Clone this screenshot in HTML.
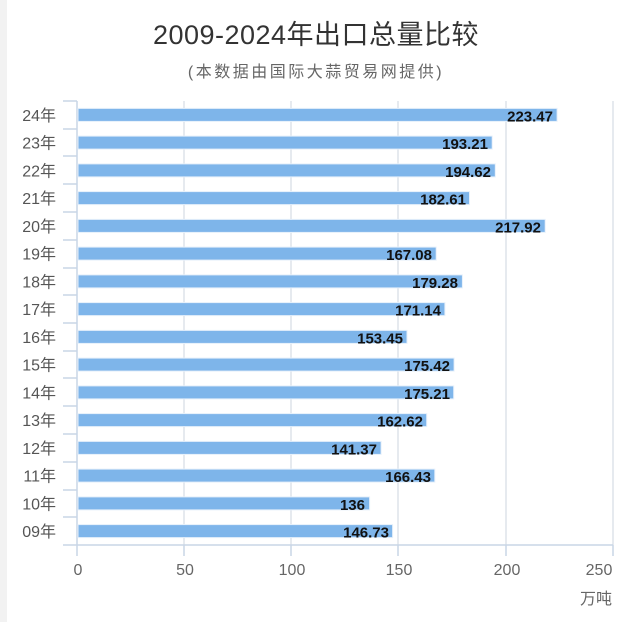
<!DOCTYPE html><html><head><meta charset="utf-8"><style>
body{margin:0;background:#fff;}
svg{display:block;font-family:"Liberation Sans","Noto Sans CJK SC",sans-serif;}
</style></head><body>
<svg width="626" height="622" viewBox="0 0 626 622">
<rect x="0" y="0" width="7" height="622" fill="#f2f2f2"/>
<text x="316" y="44" font-size="27" fill="#333" text-anchor="middle" letter-spacing="0.5">2009-2024年出口总量比较</text>
<text x="316" y="77" font-size="16" fill="#666" text-anchor="middle" letter-spacing="2.5">(本数据由国际大蒜贸易网提供)</text>
<g stroke="#dde3ea" stroke-width="1.5">
<line x1="184" y1="101" x2="184" y2="545"/><line x1="291" y1="101" x2="291" y2="545"/>
<line x1="398" y1="101" x2="398" y2="545"/><line x1="506" y1="101" x2="506" y2="545"/>
<line x1="613" y1="101" x2="613" y2="545"/>
</g>
<g stroke="#c9d6e6" stroke-width="1.5">
<line x1="77" y1="101" x2="77" y2="545"/><line x1="63" y1="545" x2="613" y2="545"/>
<line x1="77" y1="545" x2="77" y2="556"/><line x1="184" y1="545" x2="184" y2="556"/><line x1="291" y1="545" x2="291" y2="556"/><line x1="398" y1="545" x2="398" y2="556"/><line x1="506" y1="545" x2="506" y2="556"/><line x1="613" y1="545" x2="613" y2="556"/>
<line x1="63" y1="101" x2="77" y2="101"/><line x1="63" y1="129" x2="77" y2="129"/><line x1="63" y1="156" x2="77" y2="156"/><line x1="63" y1="184" x2="77" y2="184"/><line x1="63" y1="212" x2="77" y2="212"/><line x1="63" y1="240" x2="77" y2="240"/><line x1="63" y1="268" x2="77" y2="268"/><line x1="63" y1="295" x2="77" y2="295"/><line x1="63" y1="323" x2="77" y2="323"/><line x1="63" y1="351" x2="77" y2="351"/><line x1="63" y1="378" x2="77" y2="378"/><line x1="63" y1="406" x2="77" y2="406"/><line x1="63" y1="434" x2="77" y2="434"/><line x1="63" y1="462" x2="77" y2="462"/><line x1="63" y1="490" x2="77" y2="490"/><line x1="63" y1="517" x2="77" y2="517"/>
</g>
<g font-size="16" fill="#666" text-anchor="middle">
<text x="78" y="575">0</text><text x="185" y="575">50</text><text x="292" y="575">100</text><text x="399" y="575">150</text><text x="507" y="575">200</text><text x="599" y="575">250</text>
<text x="596" y="604">万吨</text>
</g>
<g fill="#7eb5ea" stroke="#e6f0fb" stroke-width="1">
<rect x="78" y="108.4" width="479.1" height="13"/>
<rect x="78" y="136.1" width="414.2" height="13"/>
<rect x="78" y="163.9" width="417.3" height="13"/>
<rect x="78" y="191.6" width="391.5" height="13"/>
<rect x="78" y="219.4" width="467.2" height="13"/>
<rect x="78" y="247.1" width="358.2" height="13"/>
<rect x="78" y="274.9" width="384.4" height="13"/>
<rect x="78" y="302.6" width="366.9" height="13"/>
<rect x="78" y="330.4" width="329.0" height="13"/>
<rect x="78" y="358.1" width="376.1" height="13"/>
<rect x="78" y="385.9" width="375.7" height="13"/>
<rect x="78" y="413.6" width="348.7" height="13"/>
<rect x="78" y="441.4" width="303.1" height="13"/>
<rect x="78" y="469.1" width="356.8" height="13"/>
<rect x="78" y="496.9" width="291.6" height="13"/>
<rect x="78" y="524.6" width="314.6" height="13"/>
</g>
<g font-size="16" fill="#555" text-anchor="end">
<text x="56" y="120.9">24年</text><text x="56" y="148.6">23年</text><text x="56" y="176.4">22年</text><text x="56" y="204.1">21年</text><text x="56" y="231.9">20年</text><text x="56" y="259.6">19年</text><text x="56" y="287.4">18年</text><text x="56" y="315.1">17年</text><text x="56" y="342.9">16年</text><text x="56" y="370.6">15年</text><text x="56" y="398.4">14年</text><text x="56" y="426.1">13年</text><text x="56" y="453.9">12年</text><text x="56" y="481.6">11年</text><text x="56" y="509.4">10年</text><text x="56" y="537.1">09年</text>
</g>
<g font-size="15" font-weight="bold" fill="#111" text-anchor="end">
<text x="553" y="121.4">223.47</text><text x="488" y="149.1">193.21</text><text x="491" y="176.9">194.62</text><text x="466" y="204.6">182.61</text><text x="541" y="232.4">217.92</text><text x="432" y="260.1">167.08</text><text x="458" y="287.9">179.28</text><text x="441" y="315.6">171.14</text><text x="403" y="343.4">153.45</text><text x="450" y="371.1">175.42</text><text x="450" y="398.9">175.21</text><text x="423" y="426.6">162.62</text><text x="377" y="454.4">141.37</text><text x="431" y="482.1">166.43</text><text x="365" y="509.9">136</text><text x="389" y="537.6">146.73</text>
</g>
</svg>
</body></html>
